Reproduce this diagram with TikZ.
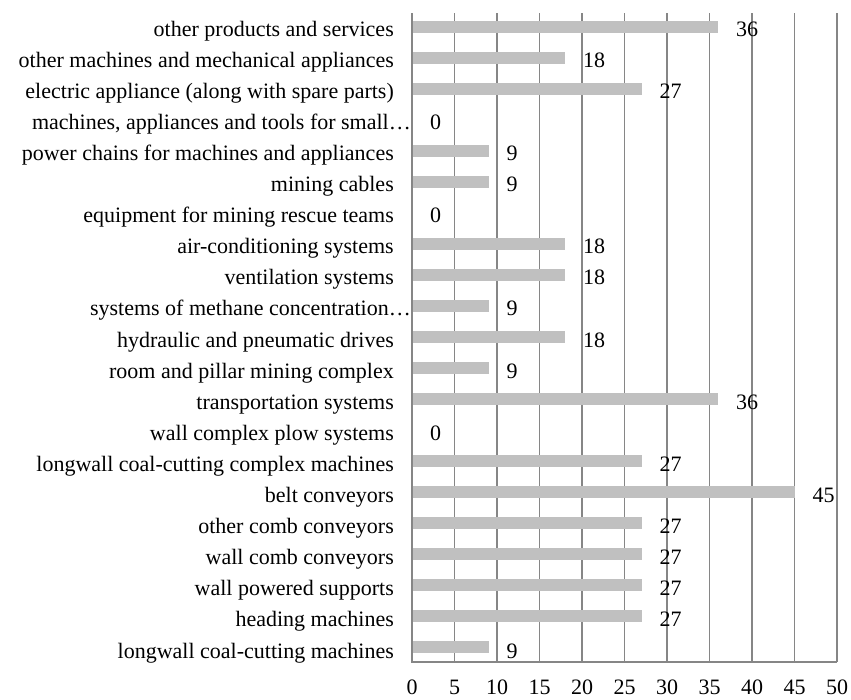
\documentclass[tikz,border=0pt]{standalone}
\usepackage{fontspec}
\setmainfont{Liberation Serif}
\usetikzlibrary{positioning}
\definecolor{barfill}{RGB}{192,192,192}
\definecolor{gridgray}{RGB}{134,134,134}

\begin{document}
\begin{tikzpicture}[
    x=1pt, y=-1pt,
    chartfont/.style={font=\fontsize{22}{24}\selectfont},
    catlabel/.style={chartfont, anchor=base east, inner sep=0pt},
    cutlabel/.style={catlabel, xshift=17pt},
    vallabel/.style={chartfont, anchor=base west, inner sep=0pt},
    ticklabel/.style={chartfont, anchor=base, inner sep=0pt},
    gridrule/.style={draw=gridgray, line width=1.1pt},
    axisrule/.style={draw=gridgray, line width=1.6pt}
]
    \useasboundingbox (0,0) rectangle (851,699);
    % vertical grid lines and tick labels
    \foreach \t in {5,10,...,50} {
        \draw[gridrule] ({412+8.5*\t},13) -- ({412+8.5*\t},662);
    }
    \foreach \t in {0,5,...,50} {
        \node[ticklabel] (tick\t) at ({412+8.5*\t},694) {\t};
    }
    % bars, category labels, values
    \foreach \v/\txt/\st [count=\i from 0] in {
        36/other products and services/catlabel,
        18/other machines and mechanical appliances\hspace{7pt}/catlabel,
        27/electric appliance (along with spare parts)/catlabel,
        0/{machines, appliances and tools for small…}/cutlabel,
        9/power chains for machines and appliances/catlabel,
        9/mining cables/catlabel,
        0/equipment for mining rescue teams/catlabel,
        18/air-conditioning systems/catlabel,
        18/ventilation systems/catlabel,
        9/systems of methane concentration…/cutlabel,
        18/hydraulic and pneumatic drives/catlabel,
        9/room and pillar mining complex/catlabel,
        36/transportation systems/catlabel,
        0/wall complex plow systems/catlabel,
        27/longwall coal-cutting complex machines/catlabel,
        45/belt conveyors/catlabel,
        27/other comb conveyors/catlabel,
        27/wall comb conveyors/catlabel,
        27/wall powered supports/catlabel,
        27/heading machines/catlabel,
        9/longwall coal-cutting machines/catlabel} {
        \pgfmathsetmacro{\yc}{27+31*\i}
        \pgfmathsetmacro{\yb}{36+31.1*\i}
        \ifnum\v>0
            \fill[barfill] (412,\yc-6) rectangle ({412+8.5*\v},\yc+6);
        \fi
        \node[\st] (cat\i) at (394,\yb) {\txt};
        \node[vallabel] (val\i) at ({412+8.5*\v+18},\yb) {\v};
    }
    % axes
    \draw[axisrule] (412,13) -- (412,662) -- (837,662);
\end{tikzpicture}
\end{document}
